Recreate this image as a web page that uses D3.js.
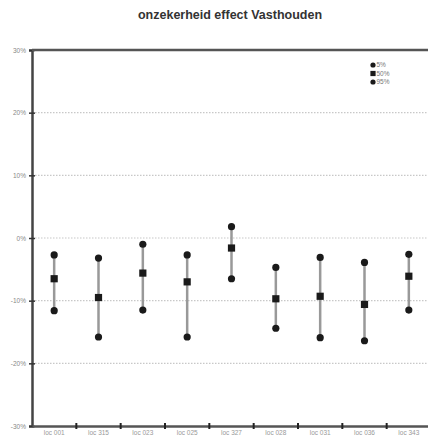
<!DOCTYPE html>
<html>
<head>
<meta charset="utf-8">
<script src="https://cdn.jsdelivr.net/npm/d3@7"></script>
<style>
   body { margin: 0; background: #fff; }
   svg { display: block; font-family: "Liberation Sans", Arial, sans-serif; }
</style>
</head>
<body>
<div id="chart"></div>
<script>
// Les locaties (categories)
const locaties = ["loc 001", "loc 315", "loc 023", "loc 025", "loc 327", "loc 028", "loc 031", "loc 036", "loc 343"]

// Percentielen (in %)
const p95 = [-2.7, -3.2, -1.0, -2.7, 1.8, -4.7, -3.1, -3.9, -2.6]
const p50 = [-6.5, -9.5, -5.6, -7.0, -1.6, -9.7, -9.3, -10.6, -6.1]
const p5 = [-11.6, -15.8, -11.5, -15.8, -6.5, -14.4, -15.9, -16.4, -11.5]

const yTicks = [30, 20, 10, 0, -10, -20, -30]
const legendLabels = ["5%", "50%", "95%"]
const legendShapes = ["circle", "square", "circle"]

const width = 428, height = 439
const margin = {top: 50, right: -3, bottom: 13, left: 32}

const svg = d3.select("#chart").append("svg")
   .attr("width", width)
   .attr("height", height)

svg.append("text")
   .attr("x", 230)
   .attr("y", 19)
   .attr("text-anchor", "middle")
   .attr("font-size", 12.5)
   .attr("font-weight", "bold")
   .attr("fill", "#333")
   .text("onzekerheid effect Vasthouden")

const x = d3.scaleBand()
   .domain(locaties)
   .range([margin.left, width - margin.right])

const y = d3.scaleLinear()
   .domain([-30, 30])
   .range([height - margin.bottom, margin.top])

// gridlijnen (gestippeld)
svg.append("g")
   .selectAll("line")
   .data(yTicks.filter(t => t !== 30 && t !== -30))
   .join("line")
   .attr("x1", margin.left)
   .attr("x2", width)
   .attr("y1", d => y(d))
   .attr("y2", d => y(d))
   .attr("stroke", "#c8c8c8")
   .attr("stroke-width", 1.2)
   .attr("stroke-dasharray", "1.5,1.5")

// y-as
const yAxis = svg.append("g")
   .attr("transform", `translate(${margin.left},0)`)
   .call(d3.axisLeft(y).tickValues(yTicks).tickFormat(d => d + "%").tickSize(3))
yAxis.select(".domain").attr("stroke", "#444").attr("stroke-width", 2.5)
yAxis.selectAll(".tick line").attr("stroke", "#333").attr("stroke-width", 1.5).attr("x2", 3).attr("x1", -3)
yAxis.selectAll(".tick text").attr("x", -6).attr("fill", "#888").attr("font-size", 6.5)
   .attr("font-family", "Liberation Sans, Arial, sans-serif")

// bovenrand
svg.append("line")
   .attr("x1", margin.left).attr("x2", width)
   .attr("y1", y(30)).attr("y2", y(30))
   .attr("stroke", "#555").attr("stroke-width", 2.5)

// x-as
const xAxis = svg.append("g")
   .attr("transform", `translate(0,${y(-30)})`)
   .call(d3.axisBottom(x).tickSize(0))
xAxis.select(".domain").attr("stroke", "#555").attr("stroke-width", 2.5)
xAxis.selectAll(".tick text").attr("dy", "0.95em").attr("fill", "#999").attr("font-size", 6.5)
   .attr("font-family", "Liberation Sans, Arial, sans-serif")

// tickmarks tussen categorieën
svg.append("g")
   .selectAll("line")
   .data(locaties.slice(1))
   .join("line")
   .attr("x1", d => x(d))
   .attr("x2", d => x(d))
   .attr("y1", y(-30) - 3)
   .attr("y2", y(-30) + 3)
   .attr("stroke", "#222")
   .attr("stroke-width", 2)

// bereik lijnen
const cx = d => x(d) + x.bandwidth() / 2
svg.append("g")
   .selectAll("line")
   .data(locaties)
   .join("line")
   .attr("x1", d => cx(d))
   .attr("x2", d => cx(d))
   .attr("y1", (d, i) => y(p95[i]))
   .attr("y2", (d, i) => y(p5[i]))
   .attr("stroke", "#999")
   .attr("stroke-width", 2.5)

const punten = svg.append("g").attr("fill", "#1a1a1a")
punten.selectAll("circle.p95")
   .data(locaties)
   .join("circle")
   .attr("class", "p95")
   .attr("cx", d => cx(d))
   .attr("cy", (d, i) => y(p95[i]))
   .attr("r", 3.6)
punten.selectAll("circle.p5")
   .data(locaties)
   .join("circle")
   .attr("class", "p5")
   .attr("cx", d => cx(d))
   .attr("cy", (d, i) => y(p5[i]))
   .attr("r", 3.6)
punten.selectAll("rect")
   .data(locaties)
   .join("rect")
   .attr("x", d => cx(d) - 3.6)
   .attr("y", (d, i) => y(p50[i]) - 3.6)
   .attr("width", 7.2)
   .attr("height", 7.2)

// legenda
const legend = svg.append("g").attr("transform", "translate(373,65)")
legendLabels.forEach((label, i) => {
   const g = legend.append("g").attr("transform", `translate(0,${i * 8.5})`)
   if (legendShapes[i] === "circle") {
      g.append("circle").attr("r", 2.6).attr("fill", "#1a1a1a")
   } else {
      g.append("rect").attr("x", -2.6).attr("y", -2.6).attr("width", 5.2).attr("height", 5.2).attr("fill", "#1a1a1a")
   }
   g.append("text")
      .attr("x", 3.5)
      .attr("y", 2.3)
      .attr("font-size", 6.5)
      .attr("fill", "#777")
      .text(label)
})
</script>
</body>
</html>
